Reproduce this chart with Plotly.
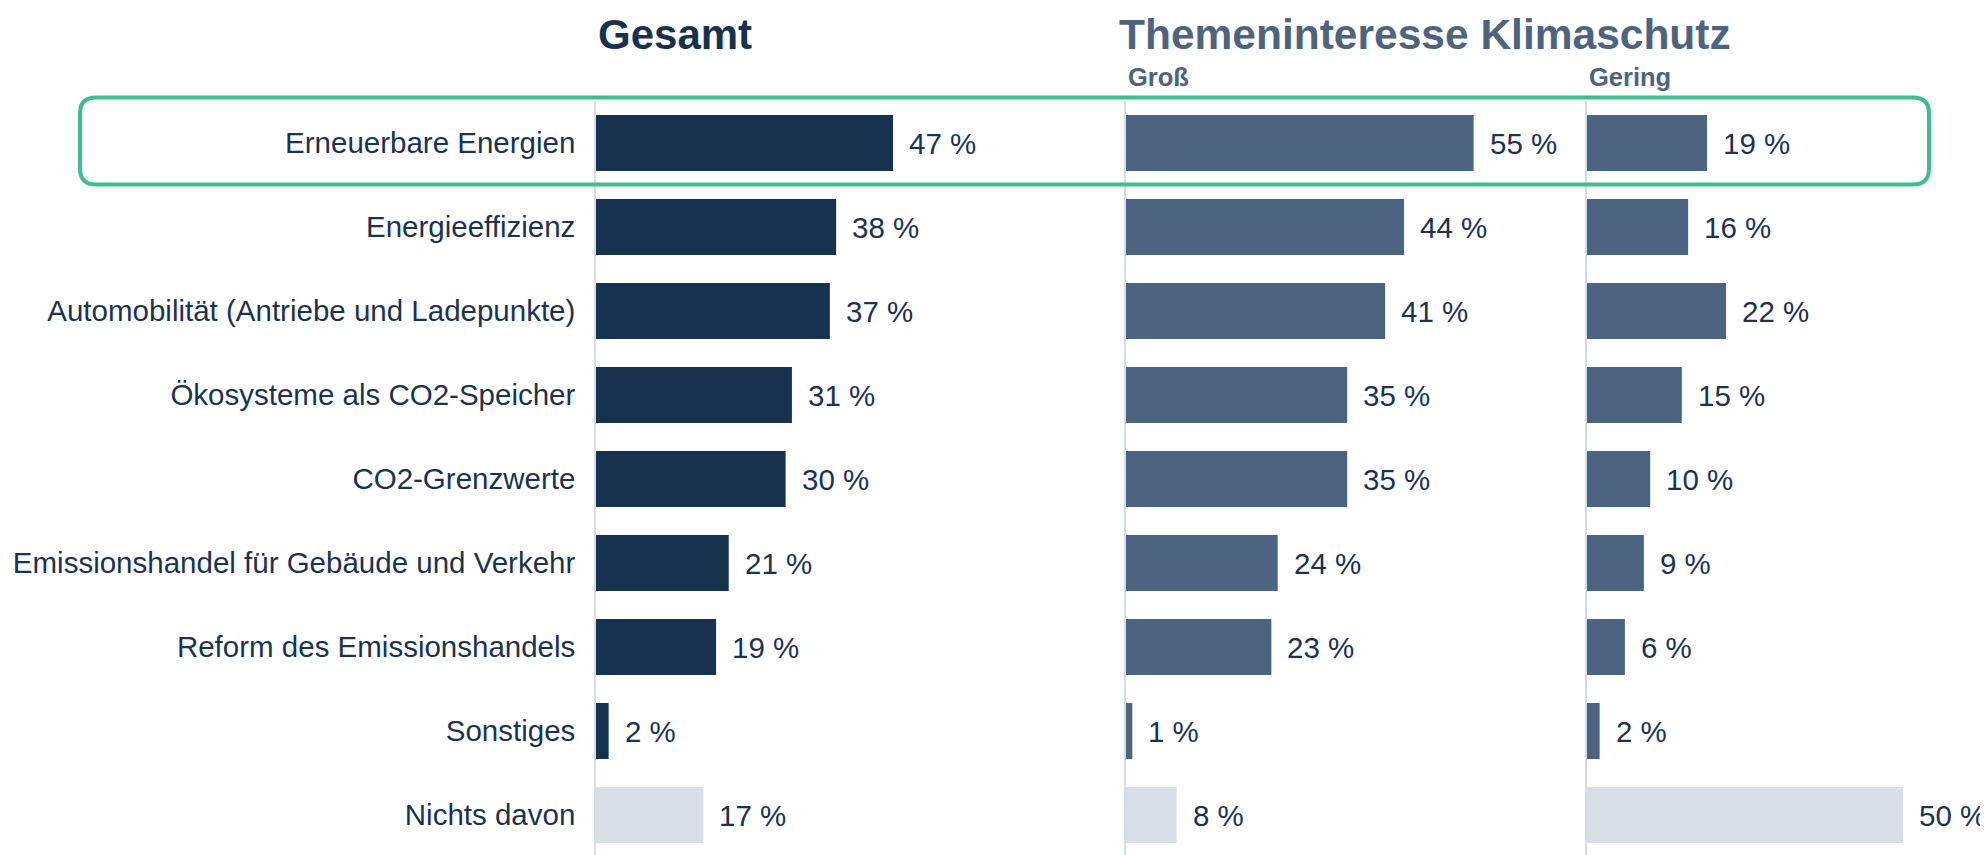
import plotly.graph_objects as go

categories = ["Erneuerbare Energien", "Energieeffizienz", "Automobilität (Antriebe und Ladepunkte)",
              "Ökosysteme als CO2-Speicher", "CO2-Grenzwerte", "Emissionshandel für Gebäude und Verkehr",
              "Reform des Emissionshandels", "Sonstiges", "Nichts davon"]
gesamt = [47, 38, 37, 31, 30, 21, 19, 2, 17]
gross = [55, 44, 41, 35, 35, 24, 23, 1, 8]
gering = [19, 16, 22, 15, 10, 9, 6, 2, 50]

W, H = 1988, 855
OFF = 8  # page body margin offset
FONT = "Arial, Liberation Sans, sans-serif"
NAVY = "#16324f"
SLATE = "#4d6480"
LIGHT = "#d8dfe7"
TXT = "#1a3352"
AXLINE = "#cfdeed"

def fx(p):
    return (p - OFF) / W

def fy(p):
    return 1 - (p - OFF) / H

def colors(base):
    return [base] * (len(categories) - 1) + [LIGHT]

fig = go.Figure()
panels = [(gesamt, NAVY, "x", "y"), (gross, SLATE, "x2", "y2"), (gering, SLATE, "x3", "y3")]
for vals, col, xa, ya in panels:
    fig.add_trace(go.Bar(y=categories, x=vals, orientation="h", marker=dict(color=colors(col), line=dict(width=0)),
                         width=0.667, xaxis=xa, yaxis=ya, hoverinfo="skip", showlegend=False))

annotations = []
for vals, col, xa, ya in panels:
    for c, v in zip(categories, vals):
        annotations.append(dict(x=v, y=c, xref=xa, yref=ya, text=f"{v} %", showarrow=False,
                                xanchor="left", yanchor="middle", xshift=14,
                                font=dict(family=FONT, size=29.5, color=TXT)))

px = 6.32  # pixels per percent
d1 = (596, 1100)
d2 = (1126, 1560)
d3 = (1587, 1995)

def xax(d):
    return dict(domain=[fx(d[0]), min(fx(d[1]), 1)], range=[0, (min(d[1], W + OFF) - d[0]) / px],
                showgrid=False, zeroline=False, showticklabels=False, showline=False, fixedrange=True)

ydom = [max(fy(857), 0), fy(101)]
def yax(anchor, labels):
    return dict(domain=ydom, anchor=anchor, type="category", categoryarray=categories, autorange="reversed",
                showgrid=False, zeroline=False, showline=True, linecolor=AXLINE, linewidth=1.5,
                showticklabels=labels, ticks="", ticklabelstandoff=13,
                tickfont=dict(family=FONT, size=29.5, color=TXT), fixedrange=True)

annotations += [
    dict(x=fx(596), y=fy(34), xref="paper", yref="paper", text="<b>Gesamt</b>", showarrow=False,
         xanchor="left", yanchor="middle", font=dict(family=FONT, size=42, color=NAVY)),
    dict(x=fx(1117), y=fy(34), xref="paper", yref="paper", text="<b>Themeninteresse Klimaschutz</b>",
         showarrow=False, xanchor="left", yanchor="middle", font=dict(family=FONT, size=42.5, color=SLATE)),
    dict(x=fx(1126), y=fy(77), xref="paper", yref="paper", text="<b>Groß</b>", showarrow=False,
         xanchor="left", yanchor="middle", font=dict(family=FONT, size=25.5, color=SLATE)),
    dict(x=fx(1587), y=fy(77), xref="paper", yref="paper", text="<b>Gering</b>", showarrow=False,
         xanchor="left", yanchor="middle", font=dict(family=FONT, size=25.5, color=SLATE)),
]

# rounded highlight box
L, R = fx(80), fx(1929)
T, B = fy(97.5), fy(184.5)
rx, ry = 16 / W, 16 / H
path = (f"M {L+rx},{T} L {R-rx},{T} Q {R},{T} {R},{T-ry} L {R},{B+ry} Q {R},{B} {R-rx},{B} "
        f"L {L+rx},{B} Q {L},{B} {L},{B+ry} L {L},{T-ry} Q {L},{T} {L+rx},{T} Z")

fig.update_layout(
    width=W, height=H, margin=dict(l=0, r=0, t=0, b=0, autoexpand=False),
    paper_bgcolor="white", plot_bgcolor="white",
    xaxis=xax(d1), xaxis2=xax(d2), xaxis3=xax(d3),
    yaxis=yax("x", True), yaxis2=yax("x2", False), yaxis3=yax("x3", False),
    annotations=annotations,
    shapes=[dict(type="path", path=path, xref="paper", yref="paper",
                 line=dict(color="#3bbf8e", width=4), fillcolor="rgba(0,0,0,0)")],
    bargap=0.333,
)
fig.write_html("out.html")
